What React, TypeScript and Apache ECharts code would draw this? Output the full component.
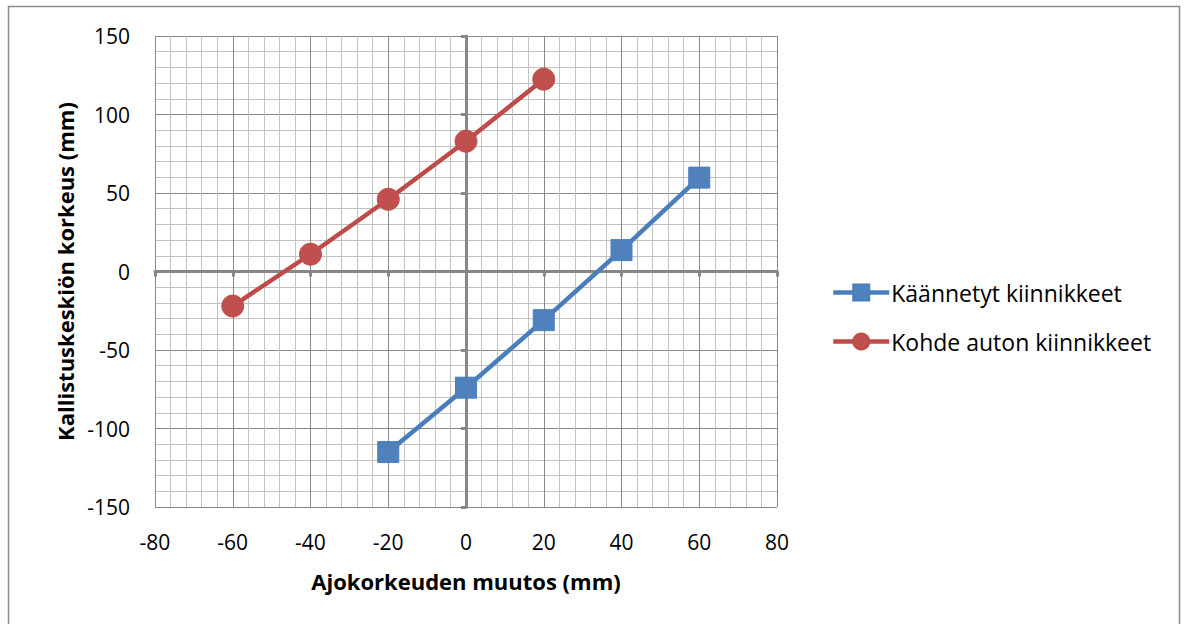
import React, { useEffect, useRef } from "react";
import * as echarts from "echarts";

const blueX = [-20, 0, 20, 40, 60];
const blueY = [-115, -74, -31, 13.6, 59.8];
const redX = [-60, -40, -20, 0, 20];
const redY = [-22, 11, 46, 83, 122.5];
const seriesNames = ["Käännetyt kiinnikkeet", "Kohde auton kiinnikkeet"];
const xTitle = "Ajokorkeuden muutos (mm)";
const yTitle = "Kallistuskeskiön korkeus (mm)";

const FONT = "'Open Sans', sans-serif";
const MAJOR = "#878787";
const MINOR = "#c2c2c2";

export default function App() {
  const ref = useRef<HTMLDivElement>(null);
  useEffect(() => {
    if (!ref.current) return;
    const chart = echarts.init(ref.current, null, { renderer: "svg" });
    const xBase = { type: "value", min: -80, max: 80, interval: 20 };
    const yBase = { type: "value", min: -150, max: 150, interval: 50 };
    chart.setOption({
      animation: false,
      backgroundColor: "#ffffff",
      textStyle: { fontFamily: FONT },
      grid: { left: 155, right: 407, top: 36, bottom: 117 },
      graphic: [
        {
          type: "rect",
          shape: { x: 8.5, y: 6.5, width: 1171, height: 640 },
          style: { fill: "none", stroke: "#8a8a8a", lineWidth: 1.5 },
          silent: true,
          z: -10,
        },
      ],
      legend: {
        orient: "vertical",
        left: 831,
        top: 281,
        padding: 0,
        itemWidth: 56,
        itemHeight: 20,
        itemGap: 26,
        lineStyle: { width: 4.5 },
        textStyle: { fontFamily: FONT, fontSize: 23, color: "#000", padding: [0, 0, 0, -3] },
        data: seriesNames,
      },
      xAxis: [
        {
          ...xBase,
          position: "bottom",
          axisLine: { show: false, onZero: false },
          axisTick: { show: false },
          axisLabel: { fontFamily: FONT, fontSize: 21, color: "#000", margin: 24 },
          splitLine: { show: true, lineStyle: { color: MAJOR, width: 1 } },
          minorTick: { show: false, splitNumber: 5 },
          minorSplitLine: { show: true, lineStyle: { color: MINOR, width: 1 } },
          name: xTitle,
          nameLocation: "middle",
          nameGap: 63,
          nameTextStyle: { fontFamily: FONT, fontSize: 22, fontWeight: "bold", color: "#000" },
          z: 1,
        },
        {
          ...xBase,
          position: "bottom",
          axisLine: { show: true, onZero: true, onZeroAxisIndex: 0, lineStyle: { color: MAJOR, width: 3 } },
          axisTick: { show: true, length: 5, lineStyle: { color: MAJOR, width: 3 } },
          axisLabel: { show: false },
          splitLine: { show: false },
          z: 2,
        },
      ],
      yAxis: [
        {
          ...yBase,
          position: "left",
          axisLine: { show: false, onZero: false },
          axisTick: { show: false },
          axisLabel: { fontFamily: FONT, fontSize: 21, color: "#000", margin: 25 },
          splitLine: { show: true, lineStyle: { color: MAJOR, width: 1 } },
          minorTick: { show: false, splitNumber: 5 },
          minorSplitLine: { show: true, lineStyle: { color: MINOR, width: 1 } },
          name: yTitle,
          nameLocation: "middle",
          nameGap: 76,
          nameTextStyle: { fontFamily: FONT, fontSize: 22, fontWeight: "bold", color: "#000" },
          z: 1,
        },
        {
          ...yBase,
          position: "left",
          axisLine: { show: true, onZero: true, onZeroAxisIndex: 0, lineStyle: { color: MAJOR, width: 3 } },
          axisTick: { show: true, length: 5, lineStyle: { color: MAJOR, width: 3 } },
          axisLabel: { show: false },
          splitLine: { show: false },
          z: 2,
        },
      ],
      series: [
        {
          name: seriesNames[0],
          type: "line",
          xAxisIndex: 0,
          yAxisIndex: 0,
          data: blueX.map((x, i) => [x, blueY[i]]),
          symbol: "rect",
          symbolSize: 21,
          lineStyle: { color: "#4a7ebb", width: 4.5 },
          itemStyle: { color: "#4f81bd", borderColor: "#4a7ebb", borderWidth: 1 },
          z: 5,
        },
        {
          name: seriesNames[1],
          type: "line",
          xAxisIndex: 0,
          yAxisIndex: 0,
          data: redX.map((x, i) => [x, redY[i]]),
          symbol: "circle",
          symbolSize: 22,
          lineStyle: { color: "#be4b48", width: 4.5 },
          itemStyle: { color: "#c0504d", borderColor: "#be4b48", borderWidth: 1 },
          z: 5,
        },
      ],
    });
    return () => chart.dispose();
  }, []);
  return (
    <div
      ref={ref}
      style={{ position: "fixed", left: 0, top: 0, width: 1184, height: 624, background: "#fff" }}
    />
  );
}
